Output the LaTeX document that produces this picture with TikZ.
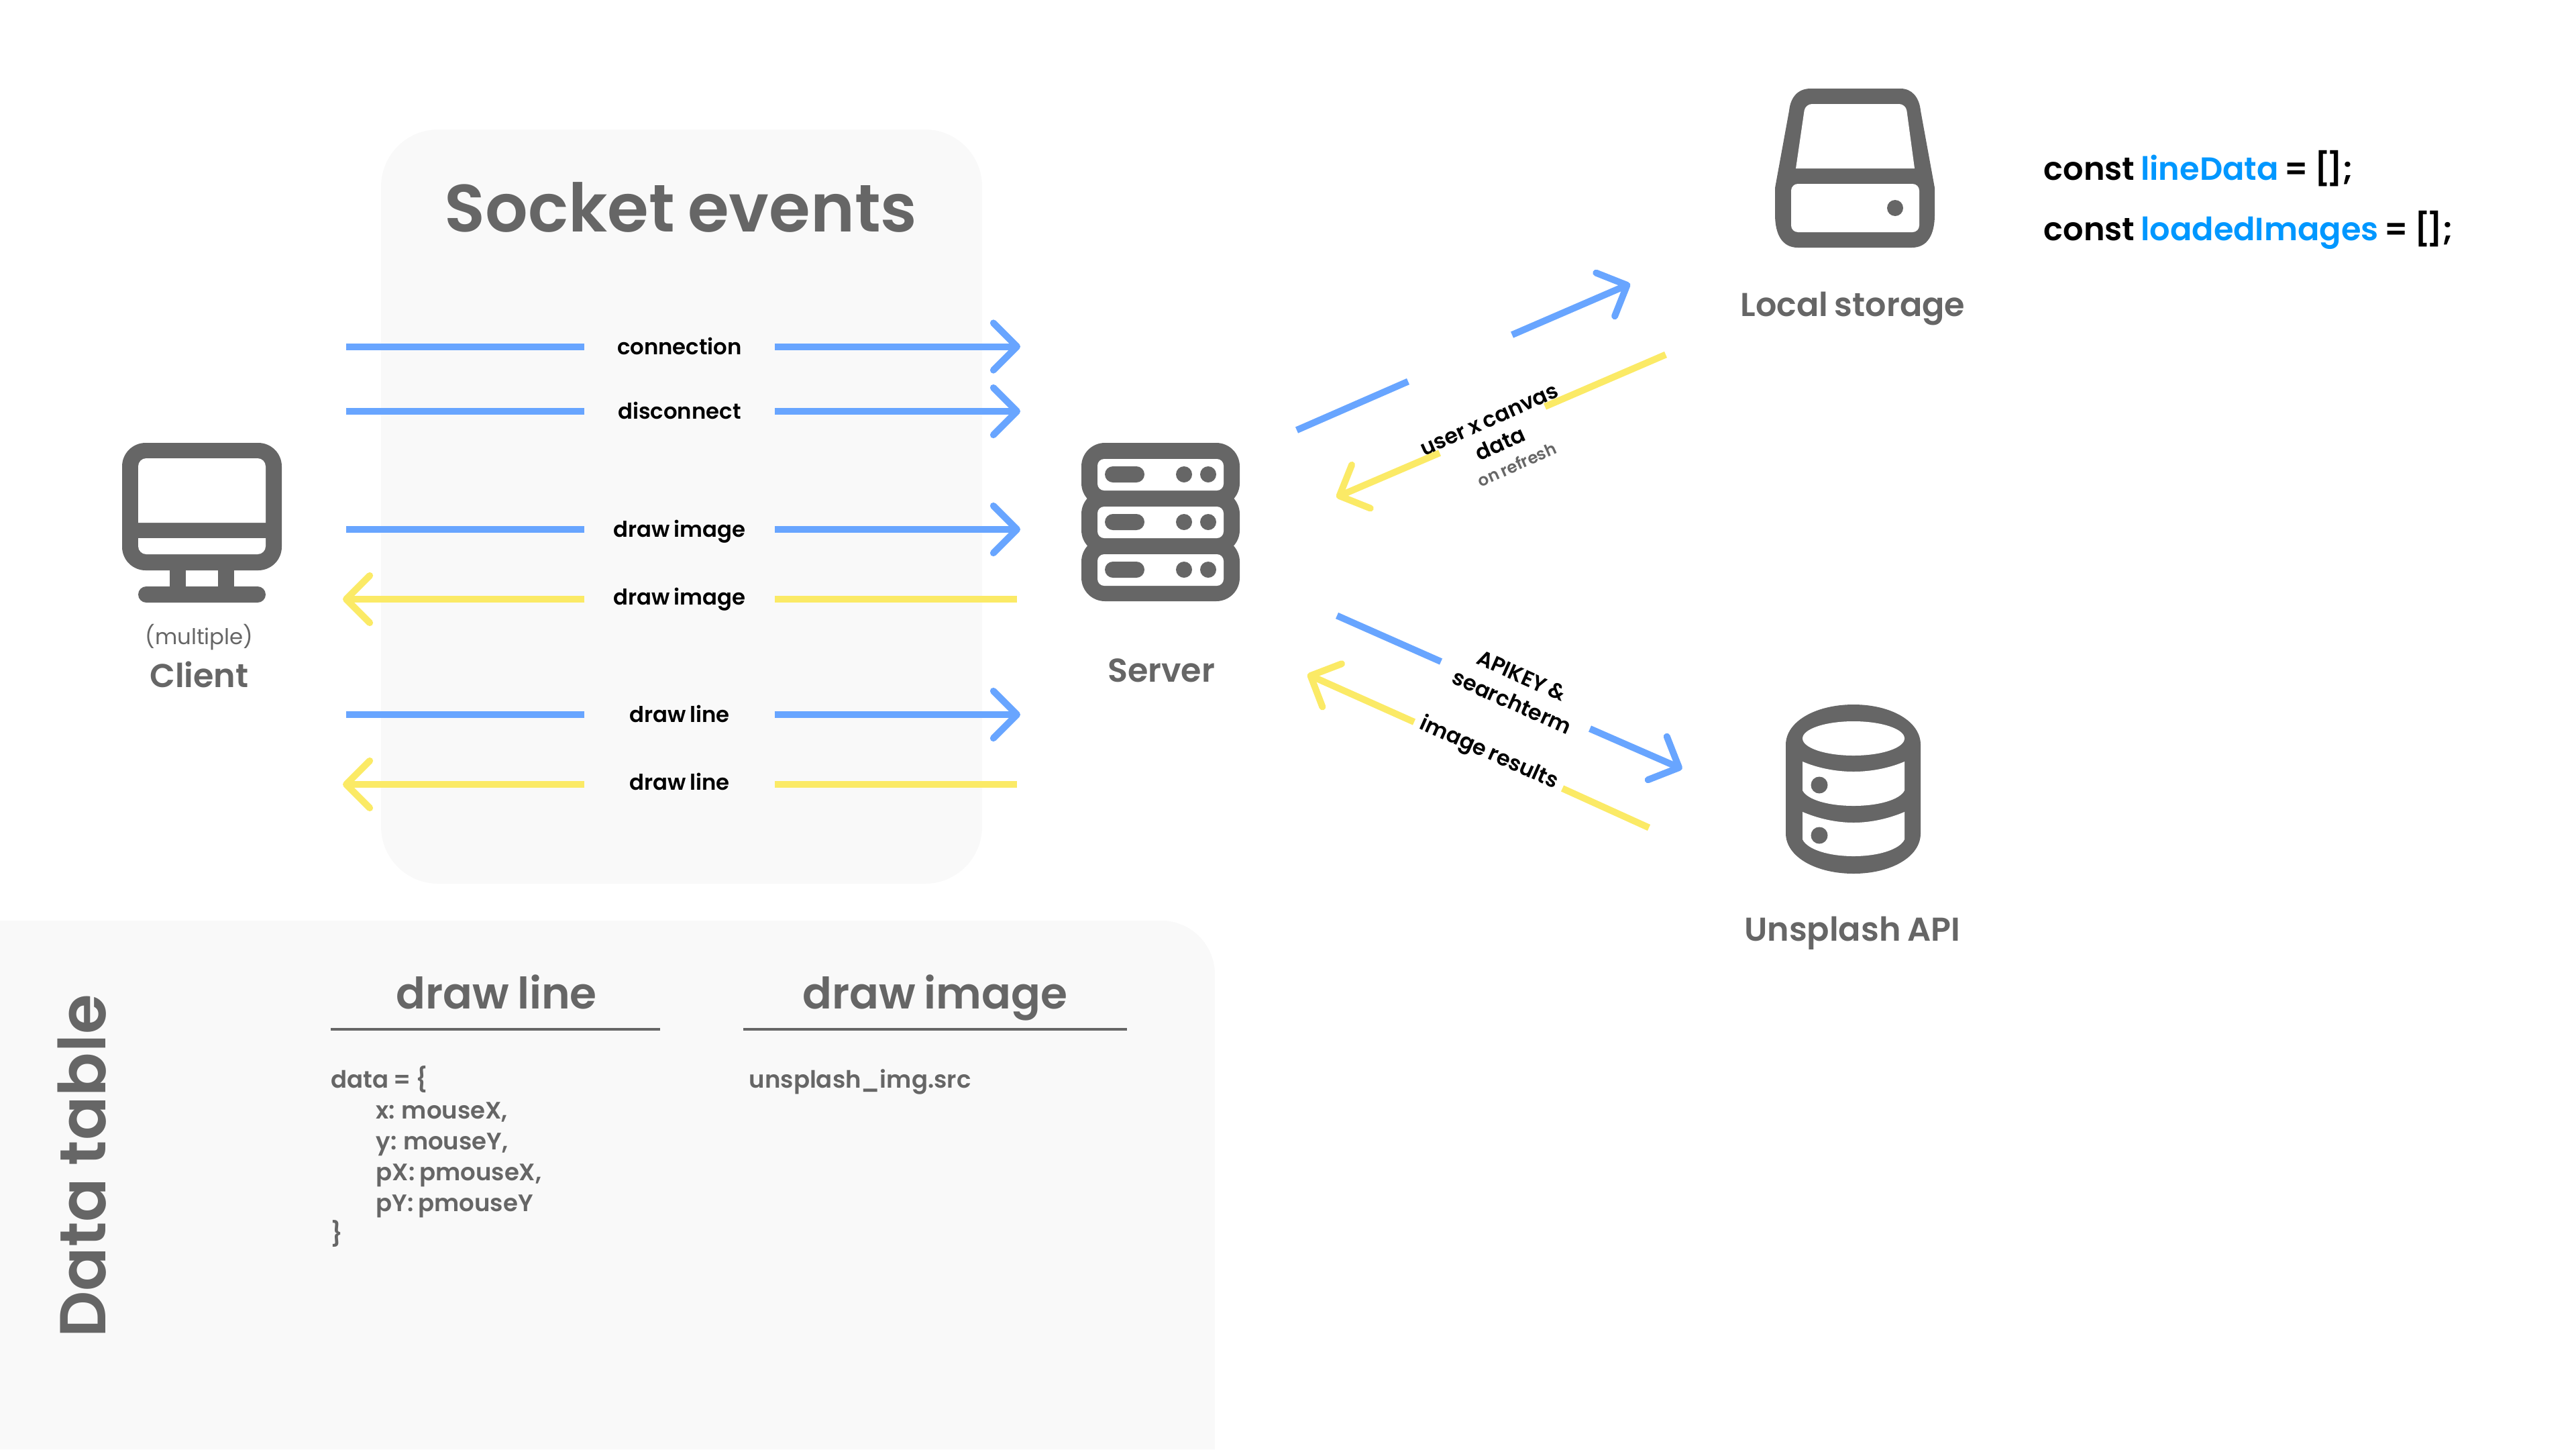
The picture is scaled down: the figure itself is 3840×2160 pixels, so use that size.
\documentclass[tikz,border=0pt]{standalone}
\usepackage{fontspec}
\setmainfont{Poppins}[BoldFont={Poppins SemiBold},WordSpace={0.8}]
\usetikzlibrary{arrows.meta,positioning}
\definecolor{panelgray}{HTML}{F9F9F9}
\definecolor{icongray}{HTML}{666666}
\definecolor{arrowblue}{HTML}{68A5FF}
\definecolor{arrowyellow}{HTML}{FBEA66}
\definecolor{codeblue}{HTML}{0097FF}
\tikzset{>={Straight Barb[length=10pt,width=20pt,round]}}
\tikzset{panel/.style={fill=panelgray}}
\tikzset{blueline/.style={draw=arrowblue, line width=1mm}}
\tikzset{yellowline/.style={draw=arrowyellow, line width=1mm}}
\tikzset{evlabel/.style={font=\fontsize{9.2pt}{11pt}\bfseries, inner sep=0, minimum width=2.82cm,
    text height=9.2pt, text depth=2.5pt}}
\tikzset{evup/.style={text depth=4.2pt}}
\tikzset{difflabel/.style={font=\fontsize{9.1pt}{11pt}\bfseries, inner sep=0}}
\tikzset{iconname/.style={font=\fontsize{14pt}{17pt}\bfseries, text=icongray, inner sep=0}}
\tikzset{bodytext/.style={font=\fontsize{10.1pt}{13pt}\bfseries, text=icongray, inner sep=0, anchor=base west}}
\tikzset{headtext/.style={font=\fontsize{18.4pt}{24pt}\bfseries, text=icongray, inner sep=0, anchor=base}}
\tikzset{codetext/.style={font=\fontsize{13.6pt}{17pt}\bfseries, inner sep=0, anchor=base west}}
\tikzset{rulerline/.style={draw=icongray, line width=.4mm}}
\begin{document}
\begin{tikzpicture}[x=0.01cm, y=-0.01cm]
    \useasboundingbox (0,0) rectangle (3840,2160);

    %%%% Panels
    \fill[panel, rounded corners=.85cm] (568,193) rectangle (1464,1317);
    \fill[panel] (0,2160) -- (0,1372) [rounded corners=.8cm] -- (1811,1372) [sharp corners] -- (1811,2160) -- cycle;

    \node[font=\fontsize{28.4pt}{34pt}\bfseries, text=icongray, inner sep=0](title) at (1015,309) {Socket events};

    %%%% Client icon
    \fill[icongray, rounded corners=.35cm] (182,660) rectangle (420,850);
    \fill[white] (206,779) [rounded corners=.12cm] -- (206,683) -- (396,683) [sharp corners] -- (396,779) -- cycle;
    \fill[white] (206,802) [rounded corners=.12cm] -- (206,826) -- (396,826) [sharp corners] -- (396,802) -- cycle;
    \fill[icongray] (253,845) rectangle (277,880);
    \fill[icongray] (325,845) rectangle (349,880);
    \fill[icongray, rounded corners=.12cm] (206,874) rectangle (396,898);
    \node[font=\fontsize{9.2pt}{13pt}\selectfont, text=icongray, inner sep=0](multiple) at (297,950) {(multiple)};
    \node[iconname](client) at (297,1005) {Client};

    %%%% Server icon
    \fill[icongray, rounded corners=.35cm] (1612,660) rectangle (1848,755);
    \fill[icongray, rounded corners=.35cm] (1612,731) rectangle (1848,825);
    \fill[icongray, rounded corners=.35cm] (1612,802) rectangle (1848,896);
    \fill[white, rounded corners=.1cm] (1636,684) rectangle (1824,731);
    \fill[white, rounded corners=.1cm] (1636,755) rectangle (1824,802);
    \fill[white, rounded corners=.1cm] (1636,826) rectangle (1824,873);
    \fill[icongray, rounded corners=.12cm] (1647,695) rectangle (1706,719);
    \fill[icongray, rounded corners=.12cm] (1647,766) rectangle (1706,790);
    \fill[icongray, rounded corners=.12cm] (1647,837) rectangle (1706,861);
    \fill[icongray] (1765,707) circle [radius=12] (1801,707) circle [radius=12];
    \fill[icongray] (1765,778) circle [radius=12] (1801,778) circle [radius=12];
    \fill[icongray] (1765,849) circle [radius=12] (1801,849) circle [radius=12];
    \node[iconname](server) at (1731,999) {Server};

    %%%% Local storage icon
    \fill[icongray] (2699,132) -- (2833,132) .. controls (2850,132) and (2861,145) .. (2863,165)
        -- (2884,280) -- (2884,320) .. controls (2884,350) and (2873,369) .. (2850,369)
        -- (2680,369) .. controls (2657,369) and (2646,350) .. (2646,320) -- (2646,280)
        -- (2667,165) .. controls (2669,145) and (2680,132) .. (2699,132) -- cycle;
    \fill[white] (2677,251) [rounded corners=.1cm] -- (2691,155) -- (2841,155) [sharp corners] -- (2854,251) -- cycle;
    \fill[white, rounded corners=.1cm] (2670,274) rectangle (2861,346);
    \fill[icongray] (2825,310) circle [radius=12];
    \node[iconname](local) at (2762,460) {Local storage};

    %%%% Unsplash icon
    \fill[icongray] (2662,1110) .. controls (2662,1075) and (2707,1050) .. (2763,1050)
        .. controls (2819,1050) and (2863,1075) .. (2863,1110) -- (2863,1242)
        .. controls (2863,1277) and (2819,1302) .. (2763,1302)
        .. controls (2707,1302) and (2662,1277) .. (2662,1242) -- cycle;
    \fill[white] (2763,1100.5) circle [x radius=76, y radius=25.5];
    \fill[white] (2687,1135) .. controls (2708,1144) and (2735,1150) .. (2763,1150)
        .. controls (2791,1150) and (2818,1144) .. (2839,1135) -- (2839,1178)
        .. controls (2832,1192) and (2800,1201) .. (2763,1201)
        .. controls (2726,1201) and (2694,1192) .. (2687,1178) -- cycle;
    \fill[white] (2687,1210) .. controls (2708,1219) and (2735,1226) .. (2763,1226)
        .. controls (2791,1226) and (2818,1219) .. (2839,1210) -- (2839,1251)
        .. controls (2832,1266) and (2800,1276) .. (2763,1276)
        .. controls (2726,1276) and (2694,1266) .. (2687,1251) -- cycle;
    \fill[icongray] (2712,1170) circle [x radius=12.5, y radius=12.5];
    \fill[icongray] (2712,1245) circle [x radius=12.5, y radius=12.5];
    \node[iconname](unsplash) at (2761,1391) {Unsplash API};

    %%%% Socket events
    \coordinate (e1a) at (516,516.5);  \coordinate (e1b) at (1521,516.5);
    \coordinate (e2a) at (516,613);    \coordinate (e2b) at (1521,613);
    \coordinate (e3a) at (516,789);    \coordinate (e3b) at (1521,789);
    \coordinate (e4a) at (511,893);    \coordinate (e4b) at (1516,893);
    \coordinate (e5a) at (516,1065);   \coordinate (e5b) at (1521,1065);
    \coordinate (e6a) at (511,1169);   \coordinate (e6b) at (1516,1169);

    \node[evlabel](connection) at (1013,516.5)       {connection};
    \node[evlabel](disconnect) at (1013,613)         {disconnect};
    \node[evlabel](imageup)    at (1013,789)         {draw image};
    \node[evlabel,evup](imagedown) at (1013,893)     {draw image};
    \node[evlabel](lineup)     at (1013,1065)        {draw line};
    \node[evlabel,evup](linedown)  at (1013,1169)    {draw line};

    \draw [blueline] (e1a) -- (connection);
    \draw [blueline,->] (connection) -- (e1b);
    \draw [blueline] (e2a) -- (disconnect);
    \draw [blueline,->] (disconnect) -- (e2b);
    \draw [blueline] (e3a) -- (imageup);
    \draw [blueline,->] (imageup) -- (e3b);
    \draw [yellowline] (e4b) -- (imagedown);
    \draw [yellowline,->] (imagedown) -- (e4a);
    \draw [blueline] (e5a) -- (lineup);
    \draw [blueline,->] (lineup) -- (e5b);
    \draw [yellowline] (e6b) -- (linedown);
    \draw [yellowline,->] (linedown) -- (e6a);

    %%%% Server to local storage
    \node[difflabel, rotate=24](usercanvas) at (2221,627) {user x canvas};
    \node[difflabel, rotate=24](userdata)   at (2236,661) {data};
    \node[font=\fontsize{7pt}{9pt}\bfseries, text=icongray, inner sep=0, rotate=24](refresh) at (2261,692) {on refresh};

    \coordinate (s1) at (1933,641);  \coordinate (s2) at (2099,568.5);
    \coordinate (s3) at (2254,499);  \coordinate (s4) at (2430,423);
    \coordinate (t1) at (2483,528.5); \coordinate (t2) at (2303,606);
    \coordinate (t3) at (2146,675);  \coordinate (t4) at (1992,741);
    \draw [blueline] (s1) -- (s2);
    \draw [blueline,->] (s3) -- (s4);
    \draw [yellowline] (t1) -- (t2);
    \draw [yellowline,->] (t3) -- (t4);

    %%%% Server to unsplash
    \node[difflabel, rotate=-24](apikey)     at (2268,1007) {APIKEY \&};
    \node[difflabel, rotate=-24](searchterm) at (2254,1046) {searchterm};
    \node[difflabel, rotate=-24](results)    at (2219,1123) {image results};

    \coordinate (u1) at (1993,917.5); \coordinate (u2) at (2148,986);
    \coordinate (u3) at (2370,1086);  \coordinate (u4) at (2507.5,1146);
    \coordinate (v1) at (2458,1233.5); \coordinate (v2) at (2329,1175);
    \coordinate (v3) at (2108,1076);  \coordinate (v4) at (1949,1005);
    \draw [blueline] (u1) -- (u2);
    \draw [blueline,->] (u3) -- (u4);
    \draw [yellowline] (v1) -- (v2);
    \draw [yellowline,->] (v3) -- (v4);

    %%%% Code
    \node[codetext](linedata) at (3046,268)
        {const \textcolor{codeblue}{lineData} = [\kern-1.5pt];};
    \node[codetext](loaded) at (3046,358)
        {const \textcolor{codeblue}{loadedImages} = [\kern-1.5pt];};

    %%%% Data table
    \node[font=\fontsize{27.5pt}{34pt}\bfseries, text=icongray, inner sep=0, rotate=90, anchor=base](datatable) at (157,1738) {Data table};
    \node[headtext](headline) at (740,1503)  {draw line};
    \node[headtext](headimage) at (1394,1503) {draw image};
    \coordinate (r1) at (493,1534);  \coordinate (r2) at (984,1534);
    \coordinate (r3) at (1108,1534); \coordinate (r4) at (1680,1534);
    \draw [rulerline] (r1) -- (r2);
    \draw [rulerline] (r3) -- (r4);

    \node[bodytext](b1) at (493,1621)  {data = \{};
    \node[bodytext](b2) at (560,1667)  {x: mouseX,};
    \node[bodytext](b3) at (560,1713)  {y: mouseY,};
    \node[bodytext](b4) at (560,1759)  {pX: pmouseX,};
    \node[bodytext](b5) at (560,1805)  {pY: pmouseY};
    \node[bodytext](b6) at (493,1851)  {\}};
    \node[bodytext](b7) at (1116,1621) {unsplash\_img.src};
\end{tikzpicture}
\end{document}
